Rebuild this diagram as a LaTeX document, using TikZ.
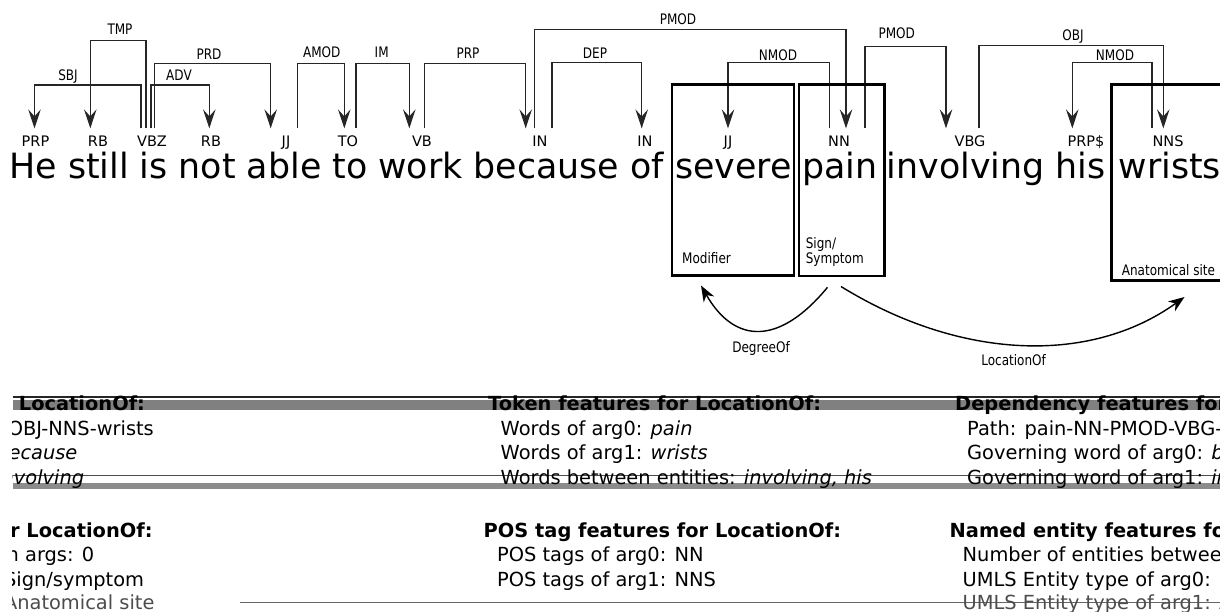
\documentclass[tikz,border=0pt]{standalone}
\usepackage{fontspec}
\setmainfont{DejaVu Sans}
\newfontfamily\condf[FakeStretch=0.83]{DejaVu Sans}
\usetikzlibrary{arrows.meta}
\newcommand\deparc[5]{%
  \path ([xshift=#2pt]#1.north) coordinate (ha) ([xshift=#5pt]#4.north) coordinate (da);
  \draw[arcline] (ha) -- (ha |- 0,#3) -- (da |- 0,#3) -- (da);}
\newcommand\rightcol[1]{%
  \node[fh] (#1h1) at (955,410) {Dependency features for LocationOf:};
  \node[ft] (#1a1) at (967,435.4) {Path: pain-NN-PMOD-VBG-OBJ-NNS-wrists};
  \node[ft] (#1a2) at (967,459.8) {Governing word of arg0: \textit{because}};
  \node[ft] (#1a3) at (967,484.2) {Governing word of arg1: \textit{involving}};
  \node[fh] (#1h2) at (949.5,537) {Named entity features for LocationOf:};
  \node[ft] (#1b1) at (962.5,561.5) {Number of entities between args: 0};
  \node[ft] (#1b2) at (962.5,586) {UMLS Entity type of arg0: Sign/symptom};
  \node[ft,text=black!70] (#1b3) at (962.5,609) {UMLS Entity type of arg1: Anatomical site};}
\begin{document}
\begin{tikzpicture}[x=1pt,y=-1pt,
  tag/.style={anchor=base,inner sep=0pt,outer xsep=0pt,outer ysep=7pt,text height=10.6pt,text depth=0pt,font=\fontsize{14.5}{16}\selectfont},
  lbl/.style={anchor=base,inner sep=0pt,font=\condf\fontsize{14.5}{16}\selectfont},
  word/.style={anchor=base west,inner sep=0pt,font=\fontsize{34.8}{40}\selectfont},
  arcline/.style={line width=1.3pt,draw=black!85,-{Stealth[length=19pt,width=12.5pt,inset=7pt]}},
  ebox/.style={draw,line width=2.7pt,anchor=north west,inner sep=0pt,outer sep=0pt},
  rel/.style={line width=1.4pt,-{Stealth[length=16pt,width=12pt,inset=5pt]}},
  ft/.style={anchor=base west,inner sep=0pt,font=\fontsize{19.4}{24}\selectfont},
  fh/.style={anchor=base west,inner sep=0pt,font=\fontsize{19.4}{24}\selectfont\bfseries}]
\useasboundingbox (0,0) rectangle (1220,611);
\clip (0,0) rectangle (1220,611);

% sentence
\node[word] (w1) at (9.3,178) {He still is not able to work because of};
\node[word] (w2) at (675,178) {severe};
\node[word] (w3) at (802,178) {pain};
\node[word] (w4) at (886.7,178) {involving his};
\node[word] (w5) at (1118.5,178) {wrists};

% POS tags
\node[tag] (prp) at (35.5,146) {PRP};
\node[tag] (rb1) at (98,146) {RB};
\node[tag] (vbz) at (152,146) {VBZ};
\node[tag] (rb2) at (211,146) {RB};
\node[tag] (jj1) at (286,146) {JJ};
\node[tag] (tto) at (348,146) {TO};
\node[tag] (vb) at (422,146) {VB};
\node[tag] (in1) at (540,146) {IN};
\node[tag] (in2) at (645,146) {IN};
\node[tag] (jj2) at (728,146) {JJ};
\node[tag] (nn) at (839,146) {NN};
\node[tag] (vbg) at (970,146) {VBG};
\node[tag] (prps) at (1086,146) {PRP\$};
\node[tag] (nns) at (1168,146) {NNS};

% dependency arcs
\deparc{vbz}{-11}{85}{prp}{-1}
\deparc{vbz}{-6}{40.7}{rb1}{-7.7}
\deparc{vbz}{-1}{85}{rb2}{-1.7}
\deparc{vbz}{2.3}{63.7}{jj1}{-15.3}
\deparc{jj1}{11.7}{63.7}{tto}{-3.7}
\deparc{tto}{8}{63.7}{vb}{-12.7}
\deparc{vb}{2.3}{63.3}{in1}{-14.3}
\deparc{in1}{-5.7}{29.3}{nn}{7}
\deparc{in1}{12}{62.7}{in2}{-3.3}
\deparc{nn}{-9.7}{62.7}{jj2}{0}
\deparc{nn}{26}{46.7}{vbg}{-24}
\deparc{vbg}{9}{45.7}{nns}{-4.7}
\deparc{nns}{-16}{62.7}{prps}{-13.7}

% arc labels
\node[lbl] (lsbj) at (68,80) {SBJ};
\node[lbl] (ltmp) at (120,34) {TMP};
\node[lbl] (ladv) at (179,80) {ADV};
\node[lbl] (lprd) at (209,59) {PRD};
\node[lbl] (lamod) at (321.7,57.3) {AMOD};
\node[lbl] (lim) at (381.7,57.3) {IM};
\node[lbl] (lprp) at (468,58.3) {PRP};
\node[lbl] (lpmod) at (678,24.8) {PMOD};
\node[lbl] (ldep) at (595,58.3) {DEP};
\node[lbl] (lnmod) at (778,60.3) {NMOD};
\node[lbl] (lpmod2) at (896.7,38.3) {PMOD};
\node[lbl] (lobj) at (1073,40) {OBJ};
\node[lbl] (lnmod2) at (1115,60.3) {NMOD};

% entity boxes
\node[ebox,minimum width=122pt,minimum height=191.3pt] (bmod) at (672,84.3) {};
\node[ebox,minimum width=85.5pt,minimum height=191.7pt] (bsign) at (799,84.3) {};
\node[ebox,minimum width=130pt,minimum height=196.4pt] (banat) at (1111.5,84.3) {};
\node[lbl,anchor=base west] (tmod) at (682,263.6) {Modifier};
\node[lbl,anchor=base west] (tsign1) at (805.6,248.4) {Sign/};
\node[lbl,anchor=base west] (tsign2) at (805.6,263.6) {Symptom};
\node[lbl,anchor=base west] (tanat) at (1121.6,275.3) {Anatomical site};

% relations
\draw[rel] ([xshift=28.5pt,yshift=-11.3pt]bsign.south west) .. controls (780,345) and (735,345) .. ([xshift=29pt,yshift=-9.9pt]bmod.south west);
\draw[rel] ([xshift=42pt,yshift=-10.5pt]bsign.south west) .. controls (960,360) and (1090,365) .. ([xshift=73pt,yshift=-16.3pt]banat.south west);
\node[lbl] (ldeg) at (761,352.6) {DegreeOf};
\node[lbl] (lloc) at (1013.6,365.3) {LocationOf};

% table rules / bands
\fill[black!50] (12.5,399.5) rectangle (1220,410);
\draw[line width=1.3pt,black!85] (12.5,397) -- (1220,397);
\fill[black!45] (12.5,482.5) rectangle (1220,489);
\draw[line width=1pt,black!70] (12.5,475.5) -- (1220,475.5);
\draw[line width=1pt,black!60] (240,602.5) -- (1220,602.5);

% middle column
\node[fh] (mh1) at (488,410) {Token features for LocationOf:};
\node[ft] (ma1) at (500.5,435.4) {Words of arg0: \textit{pain}};
\node[ft] (ma2) at (500.5,459.8) {Words of arg1: \textit{wrists}};
\node[ft] (ma3) at (500.5,484.2) {Words between entities: \textit{involving, his}};
\node[fh] (mh2) at (483.5,537) {POS tag features for LocationOf:};
\node[ft] (mb1) at (497,561.5) {POS tags of arg0: NN};
\node[ft] (mb2) at (497,586) {POS tags of arg1: NNS};

% right column and its wrapped part
\rightcol{r}
\begin{scope}
\clip (12.5,380) rectangle (400,611);
\begin{scope}[xshift=-1215pt]
\rightcol{l}
\end{scope}
\end{scope}
\end{tikzpicture}
\end{document}
